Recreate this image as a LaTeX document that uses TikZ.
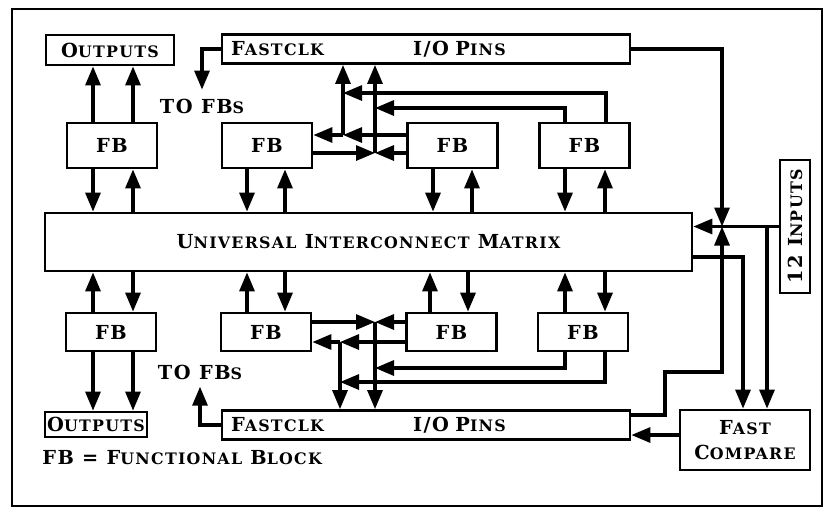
\documentclass[tikz,border=0pt]{standalone}
\usepackage{fontspec}
\setmainfont{DejaVu Serif}[LetterSpace=8.0]
\usetikzlibrary{arrows.meta, positioning}
\newcommand{\lsc}[1]{{\fontsize{9}{11}\selectfont #1}}
\tikzset{
  blockbox/.style={
    rectangle, draw, line width=1.6pt,
    inner sep=0pt, align=center,
    font=\fontsize{11}{14}\selectfont\bfseries
  },
  fbbox/.style={blockbox, minimum width=1.8cm, minimum height=0.9cm},
  iobox/.style={blockbox, minimum width=8.16cm, minimum height=0.58cm,
    text width=7.8cm, align=left},
  txt/.style={inner sep=0pt, font=\fontsize{11}{14}\selectfont\bfseries},
  conn/.style={-{Triangle[length=0.38cm, width=0.3cm]}, line width=1.8pt},
  wire/.style={line width=1.8pt}
}

\begin{document}
\begin{tikzpicture}[x=0.02cm, y=-0.02cm]
\useasboundingbox (0,0) rectangle (830,512);
\draw[line width=1.2pt] (12,9) rectangle (822,506);

%% TOP HALF
\node[blockbox, minimum width=2.56cm, minimum height=0.6cm] (outT) at (110,50) {O\lsc{UTPUTS}};
\node[iobox] (ioT) at (426,49) {\makebox[3.64cm][l]{F\lsc{ASTCLK}}I/O P\lsc{INS}};
\node[txt] (toT) at (202,106) {TO FB\lsc{S}};
\node[fbbox] (fbT1) at (112,145.5) {FB};
\node[fbbox] (fbT2) at (267,145.5) {FB};
\node[fbbox] (fbT3) at (452.5,145.5) {FB};
\node[fbbox] (fbT4) at (584.5,145.5) {FB};

%% MATRIX AND INPUTS
\node[blockbox, minimum width=12.94cm, minimum height=1.16cm] (uim) at (368.5,242)
  {U\lsc{NIVERSAL} I\lsc{NTERCONNECT} M\lsc{ATRIX}};
% rotated: its north anchor is the left side
\node[blockbox, rotate=90, minimum width=2.66cm, minimum height=0.6cm] (inp) at (795,226.5)
  {12 I\lsc{NPUTS}};

%% BOTTOM HALF
\node[fbbox, minimum height=0.76cm] (fbB1) at (111,332) {FB};
\node[fbbox, minimum height=0.76cm] (fbB2) at (266,332) {FB};
\node[fbbox, minimum height=0.76cm] (fbB3) at (451.5,332) {FB};
\node[fbbox, minimum height=0.76cm] (fbB4) at (583,332) {FB};
\node[txt] (toB) at (200,372) {TO FB\lsc{S}};
\node[blockbox, minimum width=2.04cm, minimum height=0.5cm] (outB) at (96,424.5) {O\lsc{UTPUTS}};
\node[iobox] (ioB) at (426,425) {\makebox[3.64cm][l]{F\lsc{ASTCLK}}I/O P\lsc{INS}};
\node[blockbox, minimum width=2.6cm, minimum height=1.2cm] (fc) at (745,440)
  {F\lsc{AST}\\C\lsc{OMPARE}};
\node[txt, anchor=west] (legend) at (42,458) {FB = F\lsc{UNCTIONAL} B\lsc{LOCK}};

%% TOP FB ARROWS
\draw[conn] (93,0 |- fbT1.north) -- (93,0 |- outT.south);
\draw[conn] (133,0 |- fbT1.north) -- (133,0 |- outT.south);
\draw[conn] (93,0 |- fbT1.south) -- (93,0 |- uim.north);
\draw[conn] (133,0 |- uim.north) -- (133,0 |- fbT1.south);
\draw[conn] (247,0 |- fbT2.south) -- (247,0 |- uim.north);
\draw[conn] (285,0 |- uim.north) -- (285,0 |- fbT2.south);
\draw[conn] (433,0 |- fbT3.south) -- (433,0 |- uim.north);
\draw[conn] (472,0 |- uim.north) -- (472,0 |- fbT3.south);
\draw[conn] (565,0 |- fbT4.south) -- (565,0 |- uim.north);
\draw[conn] (605,0 |- uim.north) -- (605,0 |- fbT4.south);

%% BOTTOM FB ARROWS
\draw[conn] (93,0 |- fbB1.north) -- (93,0 |- uim.south);
\draw[conn] (133,0 |- uim.south) -- (133,0 |- fbB1.north);
\draw[conn] (93,0 |- fbB1.south) -- (93,0 |- outB.north);
\draw[conn] (133,0 |- fbB1.south) -- (133,0 |- outB.north);
\draw[conn] (247,0 |- fbB2.north) -- (247,0 |- uim.south);
\draw[conn] (285,0 |- uim.south) -- (285,0 |- fbB2.north);
\draw[conn] (430,0 |- fbB3.north) -- (430,0 |- uim.south);
\draw[conn] (468,0 |- uim.south) -- (468,0 |- fbB3.north);
\draw[conn] (565,0 |- fbB4.north) -- (565,0 |- uim.south);
\draw[conn] (605,0 |- uim.south) -- (605,0 |- fbB4.north);

%% TOP CROSSBAR
\coordinate (topA) at (343,135);
\coordinate (topB) at (375,153);
\draw[conn] (fbT3.west |- topA) -- (topA);
\draw[conn] (topA) -- (fbT2.east |- topA);
\draw[conn] (topA) -- (topA |- ioT.south);
\draw[conn] (fbT2.east |- topB) -- (topB);
\draw[conn] (fbT3.west |- topB) -- (topB);
\draw[conn] (topB) -- (topB |- ioT.south);
\draw[conn] (606,0 |- fbT4.north) |- (topA |- 0,93);
\draw[conn] (565,0 |- fbT4.north) |- (topB |- 0,108);

%% BOTTOM CROSSBAR
\coordinate (botB) at (375,322);
\coordinate (botA) at (340,342);
\draw[conn] (fbB2.east |- botB) -- (botB);
\draw[conn] (fbB3.west |- botB) -- (botB);
\draw[conn] (botB) -- (botB |- ioB.north);
\draw[conn] (fbB3.west |- botA) -- (botA);
\draw[conn] (botA) -- (fbB2.east |- botA);
\draw[conn] (botA) -- (botA |- ioB.north);
\draw[conn] (565,0 |- fbB4.south) |- (botB |- 0,368);
\draw[conn] (605,0 |- fbB4.south) |- (botA |- 0,382);

%% FASTCLK
\draw[conn] (ioT.west) -| ([yshift=5pt]toT.north);
\draw[conn] (ioB.west) -| ([yshift=-4pt]toB.south);

%% RIGHT SIDE
\coordinate (jn) at (722,0 |- inp.north);
\draw[conn] (ioT.east) -| (jn);
\draw[conn] (inp.north) -- (inp.north -| uim.east);
\draw[conn] (767,0 |- inp.north) -- (767,0 |- fc.north);
\draw[conn] (uim.east |- 0,257) -| (743,0 |- fc.north);
\draw[conn] (ioB.east |- 0,415) -| (665,372) -| (jn);
\draw[conn] (fc.west |- 0,435) -- (ioB.east |- 0,435);

\end{tikzpicture}
\end{document}
